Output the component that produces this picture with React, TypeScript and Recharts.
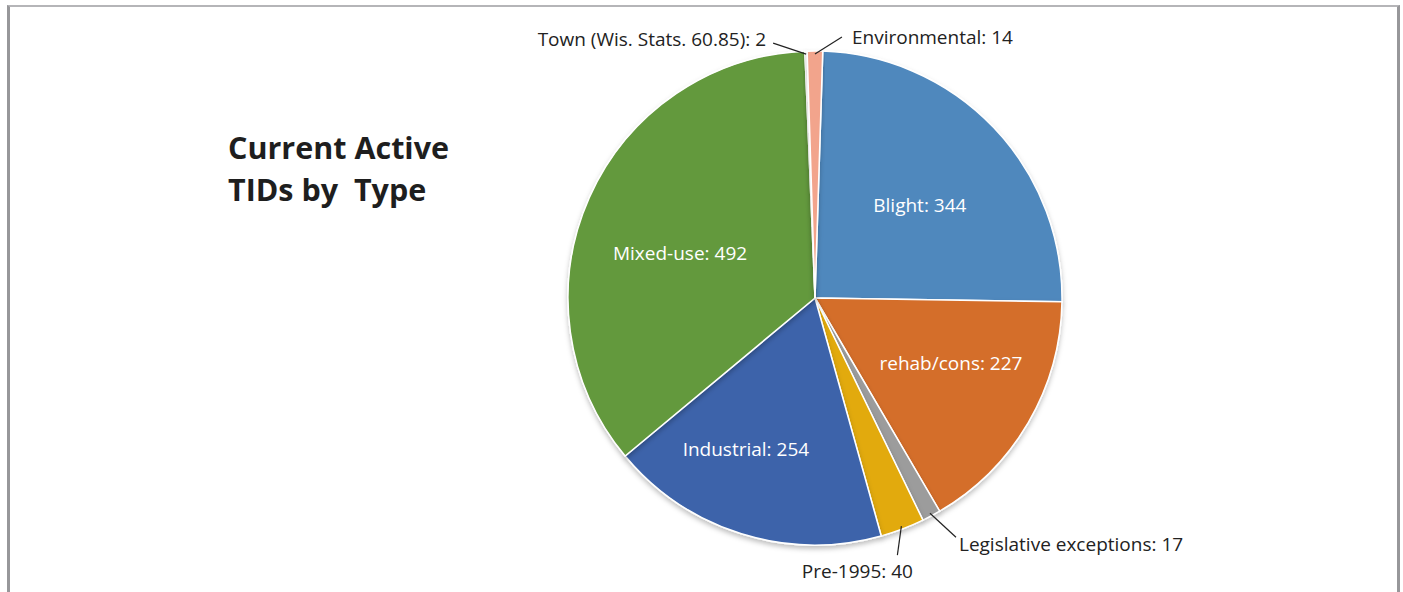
import React from "react";
import { PieChart, Pie, Cell } from "recharts";

const categories = [
  "Blight",
  "rehab/cons",
  "Legislative exceptions",
  "Pre-1995",
  "Industrial",
  "Mixed-use",
  "Town (Wis. Stats. 60.85)",
  "Environmental",
];
const counts = [344, 227, 17, 40, 254, 492, 2, 14];
const colors = [
  "#4F88BD",
  "#D46E2A",
  "#9C9C9C",
  "#E2AA0A",
  "#3C64AA",
  "#64993E",
  "#F4F4F4",
  "#F2A48C",
];

const chartData = categories.map((name, i) => ({ name, value: counts[i] }));

const FONT = "'Open Sans', 'Noto Sans', sans-serif";
const RAD = Math.PI / 180;

// label placement: inside labels sit on a radius factor, outside ones get a leader line
const labelLayout: Record<string, any> = {
  Blight: { inside: true, r: 0.57, dx: 3, dy: 4 },
  "rehab/cons": { inside: true, r: 0.6, dx: 8, dy: -10 },
  Industrial: { inside: true, r: 0.64, dx: -22, dy: 0 },
  "Mixed-use": { inside: true, r: 0.58, dx: -4, dy: 13 },
  "Legislative exceptions": { inside: false, lx: 26, ly: 24, tx: 3, ty: 7, anchor: "start" },
  "Pre-1995": { inside: false, lx: -4, ly: 29, tx: -40, ty: 16, anchor: "middle" },
  "Town (Wis. Stats. 60.85)": { inside: false, lx: -33, ly: -11, tx: -7, ty: -4, anchor: "end" },
  Environmental: { inside: false, lx: 27, ly: -17, tx: 10, ty: 0, anchor: "start" },
};

const renderLabel = (props: any) => {
  const { cx, cy, midAngle, outerRadius, name, value } = props;
  const cfg = labelLayout[name];
  const cos = Math.cos(-midAngle * RAD);
  const sin = Math.sin(-midAngle * RAD);
  const text = `${name}: ${value}`;
  if (cfg.inside) {
    const x = cx + outerRadius * cfg.r * cos + cfg.dx;
    const y = cy + outerRadius * cfg.r * sin + cfg.dy;
    return (
      <text
        x={x}
        y={y}
        fill="#fff"
        fontSize={19}
        fontFamily={FONT}
        textAnchor="middle"
        dominantBaseline="central"
      >
        {text}
      </text>
    );
  }
  const sx = cx + (outerRadius - 3) * cos;
  const sy = cy + (outerRadius - 3) * sin;
  const ex = sx + cfg.lx;
  const ey = sy + cfg.ly;
  return (
    <g>
      <line x1={sx} y1={sy} x2={ex} y2={ey} stroke="#222" strokeWidth={1.2} />
      <text
        x={ex + cfg.tx}
        y={ey + cfg.ty}
        fill="#222"
        fontSize={19}
        fontFamily={FONT}
        textAnchor={cfg.anchor}
        dominantBaseline="central"
      >
        {text}
      </text>
    </g>
  );
};

export default function App() {
  return (
    <div
      style={{
        position: "absolute",
        left: 0,
        top: 0,
        width: 1403,
        height: 592,
        background: "#fff",
        overflow: "hidden",
      }}
    >
      <div
        style={{
          position: "absolute",
          left: 7,
          top: 5,
          width: 1387,
          height: 600,
          borderLeft: "3px solid #97979a",
          borderRight: "3px solid #97979a",
          borderTop: "2px solid #b5b5b8",
        }}
      />
      <div
        style={{
          position: "absolute",
          left: 228,
          top: 126,
          fontFamily: FONT,
          fontWeight: 700,
          fontSize: 30.5,
          lineHeight: "42px",
          color: "#1e1e1e",
          whiteSpace: "pre",
        }}
      >
        {"Current Active\nTIDs by  Type"}
      </div>
      <div style={{ position: "absolute", left: 0, top: 0 }}>
        <PieChart width={1403} height={592}>
          <defs>
            <filter id="pieShadow" x="-10%" y="-10%" width="120%" height="125%">
              <feDropShadow dx="0" dy="3" stdDeviation="2.5" floodColor="#000" floodOpacity="0.25" />
            </filter>
          </defs>
          <Pie
            data={chartData}
            dataKey="value"
            nameKey="name"
            cx={810}
            cy={293}
            outerRadius={247}
            startAngle={88.2}
            endAngle={-271.8}
            stroke="#fff"
            strokeWidth={1.5}
            label={renderLabel}
            labelLine={false}
            isAnimationActive={false}
            style={{ filter: "url(#pieShadow)" }}
          >
            {chartData.map((d, i) => (
              <Cell key={d.name} fill={colors[i]} />
            ))}
          </Pie>
        </PieChart>
      </div>
    </div>
  );
}
